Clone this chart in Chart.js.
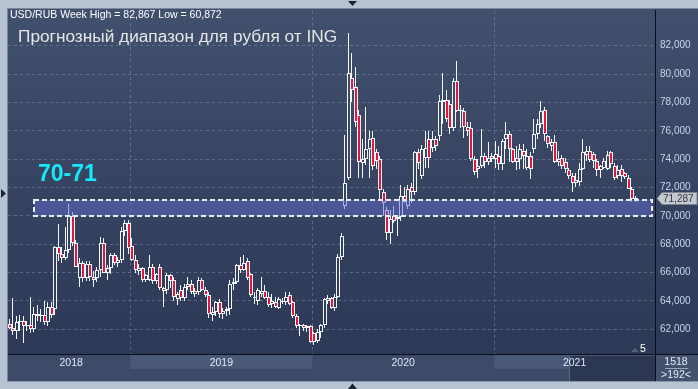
<!DOCTYPE html>
<html>
<head>
<meta charset="utf-8">
<script src="https://cdn.jsdelivr.net/npm/chart.js@4.4.1/dist/chart.umd.min.js"></script>
<style>
html,body{margin:0;padding:0;background:#b7c3d3;overflow:hidden}
canvas{display:block}
</style>
</head>
<body>
<canvas id="c" width="698" height="389"></canvas>
<script>
// weekly USD/RUB candles, first week 2018-05-07
const weekStart = '2018-05-07';
const slotCount = 185;
const yearLabels = ['2018', '2019', '2020', '2021'];
const yearStartIdx = [0, 35, 87, 139];
const yTickValues = [62, 64, 66, 68, 70, 72, 74, 76, 78, 80, 82];
const bandRange = [70.0, 71.1];
const bandStartIdx = 7;
const bandText = '70-71';
const titleText = 'Прогнозный диапазон для рубля от ING';
const infoText = 'USD/RUB Week High = 82,867 Low = 60,872';

const open = [
  62.4,62.1,61.9,62.5,62.6,62.2,62.3,62.0,63.1,62.9,
  63.0,62.5,63.6,63.4,67.8,67.3,67.0,67.6,70.0,68.1,
  65.6,66.7,65.6,66.6,65.7,65.6,66.2,68.1,66.0,66.3,
  67.2,66.7,66.9,68.9,69.5,67.9,66.9,66.1,66.3,65.5,
  65.5,66.4,65.4,66.4,64.9,64.8,65.8,65.5,64.1,64.8,
  64.2,65.0,65.2,64.5,64.6,65.5,64.8,64.4,63.0,63.2,
  63.9,63.1,63.3,63.4,65.2,65.3,66.5,66.2,66.8,65.9,
  64.2,64.0,64.5,64.7,64.3,63.8,63.9,63.5,64.0,63.9,
  64.4,63.9,62.9,62.2,62.3,62.1,62.2,61.7,61.2,61.8,
  62.3,64.0,64.2,63.5,64.3,67.1,70.7,72.7,79.7,79.1,
  77.1,73.7,74.0,74.7,75.5,74.5,74.0,71.7,70.4,68.8,
  70.0,69.8,69.9,71.4,70.7,72.0,71.7,74.5,72.8,74.1,
  75.4,74.8,75.4,75.6,78.0,78.2,77.9,76.2,79.5,77.4,
  77.4,76.3,76.2,74.0,73.3,73.5,74.2,73.8,74.2,74.0,
  74.2,73.65,75.4,75.75,74.7,73.8,74.0,74.6,73.4,74.2,
  74.7,75.75,76.45,77.5,75.6,74.9,75.2,73.8,74.1,73.8,
  73.2,72.8,72.3,72.4,73.3,74.3,74.6,74.35,73.9,73.2,
  73.4,73.3,74.5,73.5,72.84,73.3,73.0,72.7,71.9,71.2
];
const high = [
  62.7,64.2,62.9,63.0,62.9,62.6,64.3,63.6,63.7,63.4,
  64.0,63.9,63.9,67.9,69.4,67.8,69.2,70.8,70.3,68.3,
  67.0,66.8,66.8,66.8,66.1,66.4,68.5,68.4,66.5,67.4,
  67.4,67.1,69.2,69.7,69.7,68.4,67.2,66.6,66.4,65.9,
  67.2,66.6,66.0,66.6,65.0,66.0,65.9,65.7,64.6,65.1,
  65.2,65.7,65.5,64.9,65.7,65.6,65.0,64.6,63.6,64.0,
  64.1,63.5,63.6,65.5,65.6,66.6,67.1,67.2,67.0,66.0,
  64.6,64.9,65.7,65.1,64.6,64.5,64.3,64.3,64.2,64.6,
  64.6,64.0,63.1,62.4,62.4,62.3,62.3,61.8,62.0,62.4,
  64.2,64.4,64.3,64.5,67.3,68.8,75.7,82.9,81.5,80.5,
  77.5,75.4,77.7,76.0,76.0,74.7,74.2,71.9,70.6,70.4,
  70.7,70.0,72.2,72.0,72.2,72.3,74.6,74.7,75.0,76.0,
  76.0,76.0,75.6,78.5,80.1,78.9,78.2,79.7,80.9,77.8,
  77.6,76.6,76.6,74.2,74.0,76.1,74.4,75.2,74.4,75.3,
  74.9,75.4,76.6,76.0,74.8,74.9,75.1,75.1,74.7,74.5,
  76.8,76.8,78.1,77.7,75.7,75.4,75.7,74.6,74.3,74.1,
  73.4,73.0,73.0,73.7,75.4,74.9,74.9,74.5,74.0,73.6,
  74.1,74.6,74.6,73.7,73.6,73.6,73.1,72.9,72.0,71.4
];
const low = [
  62.0,61.6,61.3,61.9,61.0,61.9,61.7,61.8,62.6,62.5,
  62.3,62.2,62.8,63.0,66.8,66.7,66.9,67.4,67.9,66.4,
  65.0,65.3,65.4,65.4,65.0,65.3,65.7,66.0,65.5,65.9,
  66.5,66.4,66.7,68.6,67.3,66.8,66.0,65.8,65.3,65.3,
  65.4,65.2,65.2,64.8,63.6,64.5,64.9,64.0,63.7,64.0,
  64.0,64.8,64.5,64.3,64.4,64.7,64.3,62.8,62.6,62.9,
  62.8,62.7,62.9,63.0,64.8,65.2,66.0,66.1,65.5,64.3,
  63.8,63.7,64.3,64.1,63.6,63.5,63.5,63.4,63.8,63.7,
  63.7,62.8,62.1,61.5,61.9,61.8,61.0,60.9,61.0,61.4,
  62.1,63.8,63.4,63.3,64.2,66.9,70.5,72.5,78.0,76.3,
  72.7,72.7,73.6,72.7,73.2,73.3,71.1,70.0,68.3,68.0,
  69.5,68.6,69.6,70.9,70.5,70.9,71.5,73.3,72.6,73.4,
  73.4,74.5,74.6,75.3,76.5,76.6,75.8,76.0,77.3,76.2,
  75.5,75.6,73.9,72.9,72.7,73.4,73.4,73.6,73.8,73.4,
  73.2,73.2,74.7,73.8,73.7,73.2,73.3,73.3,73.2,72.6,
  74.4,75.4,76.2,75.3,74.8,74.6,73.7,73.5,73.3,73.0,
  72.6,71.7,72.0,72.1,73.2,73.9,73.8,73.4,72.8,72.7,
  73.3,73.2,73.4,72.5,72.6,72.4,72.6,71.9,71.0,71.0
];
const close = [
  62.1,61.9,62.5,62.6,62.2,62.3,62.0,63.1,62.9,63.0,
  62.5,63.6,63.0,67.8,67.3,67.0,67.6,70.0,68.1,66.4,
  66.7,65.6,66.6,65.7,65.5,66.2,68.1,66.0,66.3,67.2,
  66.7,66.9,68.9,69.5,67.7,66.9,66.2,66.3,65.5,65.8,
  66.4,65.4,65.9,64.9,64.7,65.8,65.4,64.3,64.5,64.2,
  65.0,65.2,64.6,64.7,65.5,64.8,64.4,63.1,63.2,63.9,
  63.1,63.3,63.4,65.2,65.3,66.5,66.2,66.7,65.6,64.4,
  64.3,64.8,64.7,64.2,63.7,64.0,63.6,64.1,63.9,64.3,
  63.8,62.9,62.2,62.3,62.1,62.2,61.1,61.1,61.8,62.3,
  64.1,64.2,63.5,64.3,67.1,68.6,72.3,80.1,78.9,76.6,
  73.8,74.0,74.7,75.4,73.5,73.9,71.8,70.9,68.8,69.8,
  69.6,69.9,71.4,71.0,71.9,71.7,74.5,73.7,74.7,74.8,
  74.1,75.4,74.9,78.1,78.2,76.8,76.2,79.5,77.4,77.5,
  76.3,76.0,74.0,73.1,73.5,74.2,73.8,74.1,74.0,74.35,
  73.65,75.3,75.75,74.7,73.8,74.1,74.7,74.2,74.2,73.3,
  75.75,76.45,77.4,75.75,75.05,75.2,73.77,74.0,73.5,73.3,
  72.8,72.3,72.5,73.3,74.5,74.6,73.95,73.9,73.2,73.5,
  73.9,74.3,73.65,72.7,73.2,72.84,72.75,71.9,71.2,71.287
];

const weeks = [];
for (let i = 0; i < slotCount; i++) {
  const d = new Date(weekStart + 'T00:00:00Z');
  d.setUTCDate(d.getUTCDate() + 7 * i);
  weeks.push(d.toISOString().slice(0, 10));
}

const cv = document.getElementById('c');
const g2d = cv.getContext('2d');
const plotGrad = g2d.createLinearGradient(0, 8, 0, 382);
plotGrad.addColorStop(0, '#41506d');
plotGrad.addColorStop(1, '#2b3754');

const FONT = '"Liberation Sans", Arial, sans-serif';
const gridColor = 'rgba(125,140,170,0.55)';

// snap candle elements to whole pixels so they stay crisp
const snap = {
  id: 'snap',
  afterDatasetsUpdate(chart) {
    chart.data.datasets.forEach((ds, k) => {
      const isWick = ds.label === 'wick';
      chart.getDatasetMeta(k).data.forEach(el => {
        if (el.x == null || isNaN(el.y)) return;
        el.x = Math.round(el.x) + (isWick ? -0.5 : 0);
        el.y = Math.round(el.y);
        el.base = Math.round(el.base);
        if (Math.abs(el.base - el.y) < 1) el.base = el.y + 1;
      });
    });
  }
};

const decor = {
  id: 'decor',
  beforeDraw(chart) {
    const c = chart.ctx, a = chart.chartArea, xs = chart.scales.x;
    c.save();
    c.fillStyle = '#b7c3d3';
    c.fillRect(0, 0, 698, 389);
    c.fillStyle = plotGrad;
    c.fillRect(7, 8, 691, 374);
    c.strokeStyle = '#7b889e';
    c.beginPath(); c.moveTo(7.5, 8); c.lineTo(7.5, 382); c.moveTo(7, 8.5); c.lineTo(698, 8.5); c.stroke();

    // bottom band with years
    const bTop = a.bottom + 1, bBot = 381;
    c.fillStyle = '#3d4b68';
    c.fillRect(a.left, bTop, a.right - a.left, bBot - bTop);
    const step = xs.getPixelForValue(1) - xs.getPixelForValue(0);
    const edges = yearStartIdx.map((k, j) => j === 0 ? a.left : xs.getPixelForValue(k) - step / 2);
    edges.push(a.right);
    for (let j = 0; j < yearLabels.length; j++) {
      if (j % 2 === 1) {
        c.fillStyle = '#4a5977';
        c.fillRect(edges[j], bTop, edges[j + 1] - edges[j], 14);
      }
    }
    // navigator box
    c.fillStyle = '#2c3853';
    c.fillRect(a.right - 85, bTop + 1, 85, bBot - bTop - 1);
    c.strokeStyle = '#5a6781';
    c.beginPath(); c.moveTo(a.right - 85.5, bTop + 1); c.lineTo(a.right - 85.5, bBot); c.stroke();
    c.fillStyle = '#dfe7f4';
    c.font = '10.5px ' + FONT;
    c.textAlign = 'center'; c.textBaseline = 'middle';
    for (let j = 0; j < yearLabels.length; j++) {
      const cx = j === 0 ? (edges[0] + edges[1]) / 2 + 2 : (edges[j] + edges[j + 1]) / 2;
      c.fillText(yearLabels[j], cx, bTop + 8);
    }
    // right lower panel
    c.fillStyle = '#43516d';
    c.fillRect(a.right + 1, bTop, 698 - a.right - 1, bBot - bTop);
    c.fillStyle = '#b7c3d3';
    c.fillRect(0, 382, 698, 7);
    c.strokeStyle = '#8895aa';
    c.beginPath(); c.moveTo(7, 381.5); c.lineTo(698, 381.5); c.stroke();
    c.restore();
  },
  afterDatasetsDraw(chart) {
    const c = chart.ctx, a = chart.chartArea, xs = chart.scales.x, ys = chart.scales.y;
    const yT = Math.round(ys.getPixelForValue(bandRange[1])), yB = Math.round(ys.getPixelForValue(bandRange[0]));
    const xL = Math.round(xs.getPixelForValue(bandStartIdx)), xR = a.right - 3;
    c.save();
    c.fillStyle = 'rgba(96,107,207,0.5)';
    c.fillRect(xL, yT, xR - xL, yB - yT);
    c.strokeStyle = '#e9edf5';
    c.lineWidth = 2;
    c.setLineDash([5, 3]);
    c.strokeRect(xL, yT, xR - xL, yB - yT);
    c.restore();
  },
  afterDraw(chart) {
    const c = chart.ctx, a = chart.chartArea, ys = chart.scales.y;
    c.save();
    // axis lines
    c.strokeStyle = '#0a0e16';
    c.lineWidth = 1;
    c.beginPath();
    c.moveTo(a.right + 0.5, a.top - 1); c.lineTo(a.right + 0.5, 381);
    c.moveTo(a.left, a.bottom + 0.5); c.lineTo(698, a.bottom + 0.5);
    c.stroke();

    // texts
    c.textBaseline = 'middle'; c.textAlign = 'left';
    c.fillStyle = '#ffffff';
    c.font = '10.5px ' + FONT;
    c.fillText(infoText, 10, 15);
    c.fillStyle = '#e6e6e6';
    c.font = '17.25px ' + FONT;
    c.fillText(titleText, 18, 37.5);
    c.fillStyle = '#16e8f7';
    c.font = 'bold 23px ' + FONT;
    c.fillText(bandText, 38, 175);

    // last price label
    const last = close[close.length - 1];
    const py = Math.round(ys.getPixelForValue(last)) + 0.5;
    c.fillStyle = '#c4c8cf';
    c.strokeStyle = '#7d828c';
    c.beginPath();
    c.moveTo(a.right + 2, py);
    c.lineTo(a.right + 7, py - 6);
    c.lineTo(697, py - 6);
    c.lineTo(697, py + 6);
    c.lineTo(a.right + 7, py + 6);
    c.closePath();
    c.fill(); c.stroke();
    c.fillStyle = '#2e3544';
    c.font = '10px ' + FONT;
    c.fillText(last.toFixed(3).replace('.', ','), a.right + 8, py + 0.5);

    // bar count / zoom marks
    c.fillStyle = '#ffffff';
    c.font = '10.5px ' + FONT;
    c.fillText('5', a.right - 15, a.bottom - 5);
    c.fillStyle = '#55617a';
    c.beginPath(); c.moveTo(a.right - 24, a.bottom - 2); c.lineTo(a.right - 20, a.bottom - 6); c.lineTo(a.right - 16, a.bottom - 2); c.fill();
    c.fillStyle = '#e4ebf6';
    c.textAlign = 'center';
    c.fillText('1518', 676, 362);
    c.fillText('>192<', 676, 375.5);
    c.strokeStyle = '#9aa6ba';
    c.beginPath(); c.moveTo(665, 368.5); c.lineTo(688, 368.5); c.stroke();

    // frame arrows
    c.fillStyle = '#1c2434';
    c.beginPath(); c.moveTo(348, 1); c.lineTo(357, 1); c.lineTo(352.5, 6); c.fill();
    c.beginPath(); c.moveTo(348, 389); c.lineTo(357, 389); c.lineTo(352.5, 383.5); c.fill();
    c.beginPath(); c.moveTo(1, 189); c.lineTo(6, 193.5); c.lineTo(1, 198); c.fill();
    c.restore();
  }
};

const upFill = plotGrad;
const downFill = '#e3173a';

new Chart(cv, {
  type: 'bar',
  data: {
    labels: weeks,
    datasets: [{
      label: 'wick',
      data: low.map((l, i) => [l, high[i]]),
      backgroundColor: '#f4f6fa',
      borderWidth: 0,
      barThickness: 1,
      inflateAmount: 0,
      grouped: false,
      order: 2
    }, {
      label: 'body',
      data: open.map((o, i) => [o, close[i]]),
      backgroundColor: ctx => close[ctx.dataIndex] >= open[ctx.dataIndex] ? upFill : downFill,
      borderColor: '#f4f6fa',
      borderWidth: 1,
      borderSkipped: false,
      barThickness: 4,
      inflateAmount: 0,
      grouped: false,
      order: 1
    }]
  },
  options: {
    responsive: false,
    animation: false,
    devicePixelRatio: 1,
    layout: { padding: { left: 8, top: 9, right: 0, bottom: 7 } },
    plugins: { legend: { display: false }, tooltip: { enabled: false } },
    scales: {
      x: {
        type: 'category',
        offset: true,
        grid: {
          offset: true,
          drawTicks: false,
          color: ctx => (ctx.index > 0 && yearStartIdx.includes(ctx.index)) ? gridColor : 'rgba(0,0,0,0)'
        },
        border: { display: false, dash: [3, 3] },
        ticks: { display: false, autoSkip: false },
        afterFit(s) { s.height = 28; }
      },
      y: {
        position: 'right',
        min: 60.25,
        max: 84.45,
        grid: { drawTicks: false, color: gridColor },
        border: { display: false, dash: [3, 3] },
        ticks: {
          color: '#c6d5ee',
          padding: 5,
          font: { family: FONT, size: 10 },
          callback: v => Number(v).toFixed(3).replace('.', ',')
        },
        afterBuildTicks(s) { s.ticks = yTickValues.map(v => ({ value: v })); },
        afterFit(s) { s.width = 43; }
      }
    }
  },
  plugins: [snap, decor]
});
</script>
</body>
</html>
